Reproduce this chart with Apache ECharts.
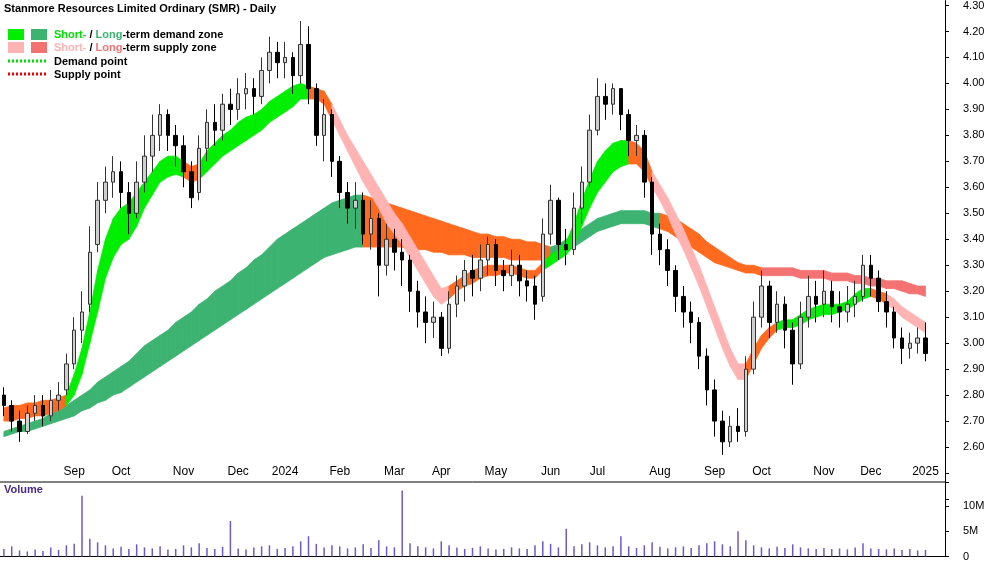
<!DOCTYPE html>
<html><head><meta charset="utf-8">
<script src="https://cdn.jsdelivr.net/npm/echarts@6/dist/echarts.min.js"></script>
<style>html,body{margin:0;padding:0;background:#fff}#c{width:1000px;height:562px}</style>
</head><body><div id="c"></div>
<script>
// [open, close, low, high]
const candles = [
[2.80,2.76,2.72,2.83],[2.76,2.70,2.66,2.78],[2.70,2.66,2.62,2.74],[2.66,2.73,2.65,2.76],[2.73,2.76,2.70,2.80],
[2.76,2.72,2.68,2.80],[2.72,2.78,2.70,2.82],[2.78,2.80,2.74,2.85],[2.82,2.92,2.80,2.96],[2.92,3.05,2.90,3.10],
[3.05,3.12,3.00,3.20],[3.15,3.35,3.12,3.45],[3.38,3.55,3.35,3.62],[3.55,3.62,3.50,3.68],[3.62,3.66,3.56,3.72],
[3.66,3.58,3.52,3.70],[3.58,3.50,3.42,3.62],[3.50,3.62,3.48,3.70],[3.62,3.72,3.58,3.80],[3.72,3.80,3.66,3.88],
[3.80,3.88,3.74,3.92],[3.88,3.80,3.74,3.90],[3.80,3.76,3.68,3.84],[3.76,3.66,3.60,3.80],[3.66,3.56,3.52,3.70],
[3.58,3.75,3.55,3.80],[3.75,3.85,3.70,3.90],[3.85,3.82,3.76,3.92],[3.82,3.92,3.78,3.96],[3.92,3.90,3.84,3.98],
[3.90,3.96,3.86,4.02],[3.96,3.98,3.90,4.04],[3.98,3.95,3.88,4.02],[3.95,4.05,3.92,4.10],[4.05,4.12,4.00,4.18],
[4.12,4.08,4.02,4.16],[4.08,4.10,4.02,4.16],[4.10,4.03,3.96,4.12],[4.03,4.15,4.00,4.24],[4.15,3.98,3.92,4.22],
[3.98,3.80,3.76,4.00],[3.80,3.88,3.70,3.94],[3.88,3.70,3.64,3.90],[3.70,3.58,3.52,3.72],[3.58,3.52,3.46,3.62],
[3.52,3.55,3.44,3.62],[3.55,3.42,3.38,3.58],[3.42,3.48,3.36,3.55],[3.48,3.30,3.18,3.50],[3.30,3.40,3.26,3.46],
[3.40,3.35,3.28,3.44],[3.35,3.32,3.22,3.40],[3.32,3.20,3.12,3.34],[3.20,3.12,3.06,3.24],[3.12,3.08,3.00,3.18],
[3.08,3.10,3.02,3.16],[3.10,2.98,2.95,3.12],[2.98,3.15,2.96,3.20],[3.15,3.22,3.10,3.26],[3.22,3.28,3.16,3.32],
[3.28,3.25,3.18,3.34],[3.25,3.32,3.20,3.38],[3.32,3.38,3.26,3.41],[3.38,3.28,3.22,3.40],[3.28,3.26,3.20,3.32],
[3.26,3.30,3.22,3.36],[3.30,3.24,3.18,3.34],[3.24,3.22,3.16,3.28],[3.22,3.15,3.09,3.26],[3.18,3.42,3.16,3.48],
[3.42,3.55,3.38,3.61],[3.55,3.38,3.32,3.56],[3.38,3.36,3.30,3.44],[3.36,3.52,3.34,3.58],[3.52,3.62,3.46,3.68],
[3.62,3.82,3.60,3.88],[3.82,3.95,3.80,4.02],[3.95,3.92,3.86,4.00],[3.92,3.98,3.88,4.00],[3.98,3.88,3.82,3.98],
[3.88,3.78,3.72,3.90],[3.78,3.80,3.72,3.84],[3.80,3.62,3.56,3.82],[3.62,3.42,3.34,3.64],[3.42,3.36,3.30,3.46],
[3.36,3.28,3.22,3.40],[3.28,3.18,3.12,3.30],[3.18,3.12,3.06,3.22],[3.12,3.08,3.00,3.16],[3.08,2.95,2.90,3.10],
[2.95,2.82,2.76,2.98],[2.82,2.70,2.64,2.86],[2.70,2.62,2.57,2.74],[2.62,2.68,2.60,2.72],[2.68,2.66,2.62,2.75],
[2.66,2.90,2.64,2.95],[2.90,3.10,2.88,3.16],[3.10,3.22,3.06,3.28],[3.22,3.08,3.02,3.24],[3.08,3.15,3.04,3.20],
[3.15,3.05,2.98,3.18],[3.05,2.92,2.84,3.08],[2.92,3.10,2.90,3.16],[3.10,3.18,3.06,3.26],[3.18,3.15,3.08,3.24],
[3.15,3.20,3.10,3.28],[3.20,3.14,3.08,3.24],[3.14,3.12,3.06,3.20],[3.12,3.15,3.08,3.22],[3.15,3.18,3.10,3.24],
[3.18,3.30,3.16,3.34],[3.30,3.25,3.18,3.34],[3.25,3.16,3.12,3.28],[3.16,3.12,3.06,3.20],[3.12,3.02,2.98,3.14],
[3.02,2.98,2.92,3.06],[2.98,3.00,2.94,3.04],[3.00,3.02,2.96,3.06],[3.02,2.96,2.93,3.08]
];
const volumes = [1.5,2.0,1.2,1.0,1.4,1.1,1.8,1.3,2.2,2.5,12.0,3.5,2.8,2.2,1.6,1.9,1.5,2.4,1.8,1.6,
2.0,1.4,1.5,2.2,1.8,2.6,1.7,1.5,1.9,7.0,1.6,1.4,1.8,2.0,2.2,1.5,1.7,2.0,3.0,4.0,
2.5,1.8,2.2,2.0,1.6,1.8,2.4,1.7,3.2,2.0,1.8,13.0,2.6,2.0,1.8,1.6,3.0,2.2,1.8,1.5,
1.7,2.0,1.6,1.4,1.5,1.8,1.6,1.5,2.2,3.0,2.5,1.8,5.5,2.0,2.4,2.8,2.2,1.8,2.0,4.0,
2.0,1.7,2.2,2.8,1.9,1.6,1.8,2.0,1.7,2.2,2.6,3.0,2.4,2.0,5.0,3.2,2.2,1.8,1.6,1.9,
1.7,2.4,1.8,1.6,1.5,1.7,1.5,1.6,1.4,1.8,2.6,1.6,1.5,1.4,1.6,1.3,1.5,1.2,1.3];
const shortLow = [2.70,2.70,2.71,2.71,2.72,2.72,2.73,2.74,2.76,2.80,2.88,3.00,3.12,3.25,3.33,3.38,3.40,3.45,3.52,3.57,
3.62,3.64,3.65,3.64,3.62,3.63,3.66,3.69,3.72,3.74,3.76,3.78,3.80,3.82,3.85,3.87,3.89,3.91,3.94,3.94,
3.94,3.92,3.86,3.80,3.74,3.68,3.62,3.57,3.52,3.46,3.42,3.38,3.33,3.28,3.23,3.18,3.15,3.17,3.20,3.22,
3.23,3.25,3.26,3.26,3.27,3.27,3.26,3.25,3.25,3.28,3.30,3.32,3.34,3.38,3.45,3.52,3.58,3.62,3.66,3.68,
3.69,3.69,3.66,3.60,3.55,3.49,3.42,3.36,3.29,3.22,3.14,3.06,2.98,2.91,2.86,2.86,2.92,2.98,3.02,3.05,
3.06,3.06,3.07,3.09,3.10,3.11,3.11,3.12,3.13,3.15,3.17,3.18,3.17,3.15,3.13,3.10,3.08,3.06,3.04];
const shortHigh = [2.75,2.76,2.76,2.77,2.77,2.78,2.78,2.79,2.80,2.88,2.98,3.12,3.28,3.40,3.48,3.52,3.54,3.58,3.62,3.66,
3.70,3.72,3.72,3.70,3.68,3.69,3.74,3.77,3.80,3.82,3.85,3.87,3.88,3.90,3.93,3.95,3.97,3.99,4.00,3.99,
3.98,3.97,3.92,3.86,3.80,3.75,3.70,3.65,3.60,3.55,3.50,3.46,3.41,3.36,3.31,3.26,3.21,3.22,3.24,3.26,
3.28,3.29,3.30,3.30,3.30,3.30,3.29,3.28,3.28,3.31,3.34,3.36,3.39,3.46,3.55,3.63,3.70,3.74,3.77,3.78,
3.78,3.77,3.74,3.66,3.61,3.56,3.50,3.44,3.37,3.30,3.22,3.14,3.06,2.98,2.92,2.92,2.98,3.03,3.06,3.08,
3.09,3.09,3.11,3.13,3.14,3.15,3.15,3.15,3.16,3.19,3.21,3.21,3.20,3.19,3.17,3.14,3.12,3.10,3.08];
const shortState = "OOOOOOOOGGGGGGGGGGGGGGGOOGGGGGGGGGGGGGGOOOPPPPPPPPPPPPPPPOOOOOOOOOOOOGGGGGGGGGGGOOOPPPPPPPPPPPPOOOOGGGGGGGGGGGGOOPPPPPP";
const longLow = [2.64,2.65,2.66,2.66,2.67,2.68,2.69,2.70,2.71,2.72,2.74,2.75,2.77,2.78,2.80,2.81,2.83,2.85,2.87,2.89,
2.91,2.93,2.95,2.97,2.99,3.01,3.03,3.05,3.07,3.09,3.11,3.13,3.15,3.17,3.19,3.21,3.23,3.25,3.27,3.29,
3.31,3.33,3.34,3.35,3.36,3.37,3.37,3.37,3.37,3.37,3.37,3.37,3.36,3.36,3.36,3.35,3.35,3.34,3.34,3.34,
3.33,3.33,3.33,3.33,3.33,3.32,3.32,3.32,3.32,3.32,3.33,3.34,3.35,3.37,3.39,3.41,3.43,3.44,3.45,3.46,
3.46,3.46,3.46,3.45,3.44,3.43,3.41,3.39,3.37,3.35,3.33,3.31,3.30,3.29,3.28,3.27,3.27,3.26,3.26,3.26,
3.26,3.26,3.25,3.25,3.25,3.25,3.24,3.24,3.24,3.23,3.23,3.22,3.22,3.21,3.21,3.20,3.19,3.19,3.18];
const longHigh = [2.66,2.67,2.68,2.69,2.70,2.71,2.73,2.74,2.76,2.78,2.80,2.82,2.85,2.87,2.89,2.91,2.93,2.96,2.99,3.01,
3.03,3.05,3.08,3.10,3.12,3.15,3.17,3.20,3.22,3.24,3.27,3.29,3.32,3.34,3.37,3.40,3.42,3.44,3.46,3.48,
3.50,3.52,3.54,3.55,3.56,3.57,3.57,3.56,3.55,3.54,3.53,3.52,3.51,3.50,3.49,3.48,3.47,3.46,3.45,3.44,
3.43,3.42,3.42,3.41,3.41,3.40,3.40,3.39,3.39,3.38,3.37,3.38,3.40,3.42,3.44,3.46,3.48,3.49,3.50,3.51,
3.51,3.51,3.51,3.50,3.50,3.49,3.48,3.46,3.44,3.42,3.39,3.37,3.35,3.33,3.31,3.30,3.30,3.29,3.29,3.29,
3.29,3.29,3.28,3.28,3.28,3.28,3.27,3.27,3.27,3.26,3.26,3.25,3.25,3.24,3.24,3.24,3.23,3.22,3.22];
const longState = "DDDDDDDDDDDDDDDDDDDDDDDDDDDDDDDDDDDDDDDDDDDDDDOOOOOOOOOOOOOOOOOOOOOOOODDDDDDDDDDDDDDOOOOOOOOOOOOORRRRRRRRRRRRRRRRRRRRRRRR";
const monthTicks = {9:'Sep',15:'Oct',23:'Nov',30:'Dec',36:'2024',43:'Feb',50:'Mar',56:'Apr',63:'May',70:'Jun',76:'Jul',84:'Aug',91:'Sep',97:'Oct',105:'Nov',111:'Dec',118:'2025'};
const nCat = 121;

const colors = {G:'#00ee00',P:'#ffb3b3',O:'#ff6a1f',D:'#3cb371',R:'#f47272'};
const cats = Array.from({length:nCat},(_,i)=>String(i));
const ohlcData = candles.map(c=>[c[0],c[1],c[2],c[3]]);
function bandSeries(lo,hi,state,z){
  return {type:'custom',xAxisIndex:0,yAxisIndex:0,z:z,silent:true,
    data:lo.slice(0,-1).map((v,i)=>i),
    renderItem:function(params,api){
      const i=api.value(0);
      const a=api.coord([i,lo[i]]),b=api.coord([i+1,lo[i+1]]),c=api.coord([i+1,hi[i+1]]),d=api.coord([i,hi[i]]);
      const col=colors[state[i]];
      return {type:'polygon',shape:{points:[a,b,c,d]},style:{fill:col,stroke:col,lineWidth:0.8}};
    }};
}
const chart = echarts.init(document.getElementById('c'));
const txt = (t,x,y,extra)=>Object.assign({type:'text',left:x,top:y,style:{text:t,font:'bold 11px Arial',fill:'#000'}},extra||{});
chart.setOption({
  animation:false,
  grid:[{left:0,right:55,top:0,height:499,containLabel:false},{left:0,right:55,top:482,height:75}],
  xAxis:[
    {type:'category',data:cats,gridIndex:0,offset:-17,
     axisLine:{show:false},axisTick:{show:false},
     axisLabel:{inside:true,interval:0,formatter:v=>monthTicks[v]||'',font:'bold 11px Arial',color:'#000',margin:4}},
    {type:'category',data:cats,gridIndex:1,axisLine:{lineStyle:{color:'#000'}},axisTick:{show:false},axisLabel:{show:false}}
  ],
  yAxis:[
    {type:'value',gridIndex:0,position:'right',min:2.4,max:4.319,interval:0.1,splitLine:{show:false},
     axisLine:{show:true,lineStyle:{color:'#000'}},axisTick:{show:true,length:4},
     axisLabel:{showMaxLabel:false,formatter:v=>(v<2.55||Math.abs(v*10-Math.round(v*10))>0.01)?'':v.toFixed(2),color:'#000',fontSize:11,fontFamily:'Arial',margin:18}},
    {type:'value',gridIndex:1,position:'right',min:0,max:14.7,interval:5,splitLine:{show:false},
     axisLine:{show:true,lineStyle:{color:'#000'}},axisTick:{show:true,length:4},
     axisLabel:{formatter:v=>v>14?'':(v===0?'0':v+'M'),color:'#000',fontSize:11,fontFamily:'Arial',margin:18}}
  ],
  series:[
    bandSeries(longLow,longHigh,longState,1),
    bandSeries(shortLow,shortHigh,shortState,2),
    {type:'candlestick',xAxisIndex:0,yAxisIndex:0,z:5,data:ohlcData,barWidth:4,
     itemStyle:{color:'#cfcfcf',borderColor:'#333',color0:'#000',borderColor0:'#000',borderWidth:1}},
    {type:'bar',xAxisIndex:1,yAxisIndex:1,data:volumes,barWidth:1.5,itemStyle:{color:'#6a5acd'}}
  ],
  graphic:[
    txt('Stanmore Resources Limited Ordinary (SMR) - Daily',4,3),
    {type:'rect',left:8,top:29,shape:{width:16,height:11},style:{fill:'#00ee00'}},
    {type:'rect',left:31,top:29,shape:{width:16,height:11},style:{fill:'#3cb371'}},
    {type:'rect',left:8,top:42,shape:{width:16,height:11},style:{fill:'#ffb3b3'}},
    {type:'rect',left:31,top:42,shape:{width:16,height:11},style:{fill:'#f47272'}},
    {type:'text',left:54,top:29,style:{text:'{g|Short-} / {d|Long}-term demand zone',font:'bold 11px Arial',fill:'#000',
      rich:{g:{fill:'#00dd00',font:'bold 11px Arial'},d:{fill:'#3cb371',font:'bold 11px Arial'}}}},
    {type:'text',left:54,top:42,style:{text:'{p|Short-} / {r|Long}-term supply zone',font:'bold 11px Arial',fill:'#000',
      rich:{p:{fill:'#ffb3b3',font:'bold 11px Arial'},r:{fill:'#f47272',font:'bold 11px Arial'}}}},
    {type:'line',shape:{x1:8,y1:61,x2:46,y2:61},style:{stroke:'#00dd00',lineWidth:3,lineDash:[2,2]}},
    {type:'line',shape:{x1:8,y1:74,x2:46,y2:74},style:{stroke:'#ee0000',lineWidth:3,lineDash:[2,2]}},
    txt('Demand point',54,56),
    txt('Supply point',54,69),
    {type:'text',left:4,top:484,style:{text:'Volume',font:'bold 11px Arial',fill:'#4b2a8c'}},
    {type:'rect',left:0,top:483,shape:{width:944,height:20},style:{fill:'rgba(0,0,0,0)'}},
    {type:'line',shape:{x1:0,y1:482,x2:945,y2:482},style:{stroke:'#000',lineWidth:1}}
  ]
});
</script></body></html>
